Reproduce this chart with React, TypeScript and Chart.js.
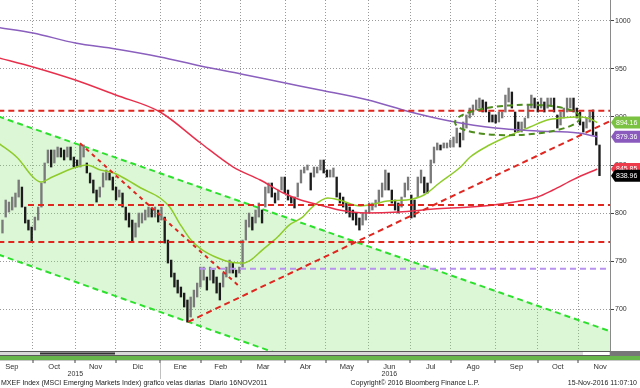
import React, { useEffect, useRef } from 'react';
import { Chart, registerables } from 'chart.js';

Chart.register(...registerables);

// ---------- DATA ----------
// Candles: one bar per ~1.7 trading days, Sep-2015 .. 15-Nov-2016 (high / low)
const candleHigh = [
  792.8, 813.6, 811.5, 816.7, 820.9, 834.4, 827.1, 806.3, 792.8, 785.5,
  795.9, 806.3, 831.3, 852.1, 865.6, 865.6, 865.6, 868.7, 867.7, 865.6,
  868.7, 868.7, 858.3, 855.2, 870.8, 870.8, 852.1, 841.7, 834.4, 824.0,
  827.1, 841.7, 844.8, 841.7, 837.5, 827.1, 824.0, 820.9, 806.3, 800.1,
  792.8, 789.7, 800.1, 800.1, 803.2, 806.3, 805.3, 806.3, 803.2, 806.3,
  795.9, 772.0, 751.2, 737.7, 730.4, 723.2, 716.9, 709.7, 712.8, 720.0,
  727.3, 743.9, 743.9, 733.6, 743.9, 740.8, 733.6, 727.3, 737.7, 743.9,
  751.2, 748.1, 740.8, 743.9, 772.0, 792.8, 800.1, 795.9, 803.2, 810.5,
  803.2, 827.1, 831.3, 831.3, 820.9, 824.0, 837.5, 837.5, 824.0, 816.7,
  816.7, 831.3, 844.8, 847.9, 850.0, 841.7, 847.9, 847.9, 855.2, 855.2,
  844.8, 844.8, 846.9, 837.5, 820.9, 816.7, 810.5, 806.3, 803.2, 800.1,
  794.9, 800.1, 803.2, 810.5, 810.5, 813.6, 824.0, 831.3, 844.8, 841.7,
  824.0, 813.6, 810.5, 816.7, 831.3, 837.5, 818.8, 813.6, 837.5, 844.8,
  837.5, 831.3, 855.2, 868.7, 872.9, 870.8, 872.9, 872.9, 876.0, 879.1,
  888.4, 883.2, 894.7, 902.0, 909.2, 912.4, 917.6, 919.6, 917.6, 915.5,
  905.1, 902.0, 902.0, 905.1, 905.1, 922.7, 930.0, 925.9, 905.1, 894.7,
  894.7, 898.9, 912.4, 922.7, 919.6, 915.5, 919.6, 915.5, 919.6, 919.6,
  919.6, 902.0, 905.1, 909.2, 919.6, 919.6, 919.6, 909.2, 905.1, 894.7,
  898.9, 905.1, 907.2, 884.3, 870.8,
];
const candleLow = [
  779.3, 795.9, 801.1, 803.2, 806.3, 816.7, 806.3, 789.7, 782.4, 769.9,
  782.4, 792.8, 806.3, 831.3, 852.1, 847.9, 852.1, 858.3, 858.3, 855.2,
  858.3, 855.2, 847.9, 847.9, 847.9, 858.3, 841.7, 831.3, 820.9, 811.5,
  816.7, 827.1, 834.4, 834.4, 824.0, 813.6, 816.7, 806.3, 792.8, 785.5,
  769.9, 775.1, 785.5, 789.7, 792.8, 795.9, 795.9, 795.9, 790.7, 792.8,
  768.9, 748.1, 733.6, 723.2, 716.9, 712.8, 702.4, 686.8, 692.0, 702.4,
  712.8, 723.2, 730.4, 720.0, 730.4, 727.3, 716.9, 709.7, 723.2, 733.6,
  737.7, 737.7, 733.6, 737.7, 743.9, 772.0, 785.5, 782.4, 789.7, 795.9,
  789.7, 806.3, 820.9, 816.7, 810.5, 813.6, 824.0, 820.9, 813.6, 810.5,
  805.3, 816.7, 831.3, 841.7, 844.8, 824.0, 837.5, 841.7, 844.8, 841.7,
  837.5, 837.5, 837.5, 816.7, 810.5, 806.3, 800.1, 795.9, 792.8, 787.6,
  782.4, 787.6, 792.8, 800.1, 803.2, 806.3, 810.5, 816.7, 824.0, 824.0,
  810.5, 803.2, 800.1, 806.3, 816.7, 824.0, 794.9, 795.9, 816.7, 831.3,
  820.9, 820.9, 831.3, 852.1, 865.6, 865.6, 867.7, 867.7, 868.7, 868.7,
  872.9, 868.7, 876.0, 888.4, 898.9, 902.0, 907.2, 909.2, 905.1, 905.1,
  894.7, 894.7, 893.6, 894.7, 898.9, 905.1, 915.5, 909.2, 884.3, 884.3,
  884.3, 888.4, 898.9, 909.2, 909.2, 905.1, 909.2, 905.1, 909.2, 912.4,
  905.1, 888.4, 891.6, 898.9, 905.1, 909.2, 905.1, 898.9, 891.6, 884.3,
  888.4, 894.7, 881.2, 870.8, 838.96,
];
const CANDLE_SLOTS = 188;

// Moving averages (x = trading-day index from 7-Sep-2015)
const purpleDays = [0, 18, 40, 61, 84, 105, 126, 149, 167, 192, 214, 235, 258, 280, 301, 311];
const purpleVals = [993.0, 987.2, 976.8, 970.6, 962.3, 952.9, 944.6, 935.2, 928.0, 917.6, 905.1, 895.5, 888.4, 885.3, 883.2, 879.36];

const redDays = [0, 18, 40, 61, 84, 105, 122, 136, 148, 157, 167, 177, 191, 208, 226, 245, 257, 271, 280, 288, 299, 311];
const redVals = [961.5, 951.9, 938.3, 922.7, 905.1, 872.9, 847.9, 834.4, 820.9, 813.6, 808.4, 803.2, 800.1, 801.1, 804.2, 806.3, 808.4, 812.6, 816.7, 824.0, 835.4, 845.85];

const greenDays = [0, 10, 18, 22, 28, 39, 46, 53, 60, 67, 74, 84, 89, 94, 100, 106, 114, 120, 127, 131, 137, 145, 151, 158, 163, 171, 177, 188, 195, 202, 212, 221, 229, 240, 245, 255, 266, 276, 285, 292, 301, 306, 311];
const greenVals = [872.9, 857.3, 837.5, 832.3, 837.5, 846.9, 850.0, 844.8, 841.7, 834.4, 826.1, 815.7, 806.3, 789.7, 772.0, 761.6, 753.3, 749.2, 748.1, 751.2, 761.6, 775.1, 787.6, 795.9, 806.3, 815.7, 813.6, 807.4, 809.4, 812.6, 813.6, 818.8, 831.3, 847.9, 858.3, 870.8, 881.2, 889.5, 896.8, 898.9, 899.9, 898.9, 894.16];

// Trend lines / levels
const channelDays = [0, 318];
const channelUpper = [900.5, 677.0];
const channelLower = [757.0, 531.0];
const redDownDays = [42.4, 124.4];
const redDownVals = [872.5, 725.2];
const redUpDays = [98.6, 318];
const redUpVals = [687.0, 896.0];
const levelRed = [906.5, 808.4, 770.0];
const levelRedStart = [0, 15.4, 0];
const levelPurple = 742.3;
const levelPurpleStart = 104.7;
const levelEnd = 318;

// Ellipse annotation: centre (day, value), half-span (days, value)
const ellipseCenter = [269.6, 896.8];
const ellipseHalf = [32.5, 15.6];

// Axis
const yTicks = [700, 750, 800, 850, 900, 950, 1000];
const monthStarts = [18, 40, 61, 84, 105, 126, 149, 170, 192, 214, 235, 258, 280, 301];
const monthNames = ['Sep', 'Oct', 'Nov', 'Dic', 'Ene', 'Feb', 'Mar', 'Abr', 'May', 'Jun', 'Jul', 'Ago', 'Sep', 'Oct', 'Nov'];
const monthCenters = [7, 29, 50.5, 72.5, 94.5, 115.5, 137.5, 159.5, 181, 203, 224.5, 246.5, 269, 290.5, 312.5];
const yearLabels = [{ day: 40, text: '2015' }, { day: 203, text: '2016' }];
const yearBreakDay = 84;

const lastTags = [
  { value: 894.16, text: '894.16', bg: '#7cc242', fg: '#ffffff' },
  { value: 879.36, text: '879.36', bg: '#8a5bbd', fg: '#ffffff' },
  { value: 845.85, text: '845.85', bg: '#ee3b4c', fg: '#ffffff' },
  { value: 838.96, text: '838.96', bg: '#000000', fg: '#ffffff' },
];

const footerLeft = 'MXEF Index (MSCI Emerging Markets Index) grafico velas diarias  Diario 16NOV2011';
const footerMid = 'Copyright© 2016 Bloomberg Finance L.P.';
const footerRight = '15-Nov-2016 11:07:10';

const FONT = '"Liberation Sans", Arial, sans-serif';

// ---------- CHART ----------
const pts = (d: number[], v: number[]) => d.map((x, i) => ({ x, y: v[i] }));

const lineDs = (data: any, color: string, width: number, dash: number[], order: number, extra: any = {}) => ({
  type: 'line',
  xAxisID: 'xd',
  yAxisID: 'y',
  data,
  borderColor: color,
  borderWidth: width,
  borderDash: dash,
  pointRadius: 0,
  fill: false,
  tension: 0,
  order,
  ...extra,
});

const overlayPlugin = {
  id: 'overlay',
  afterDatasetsDraw(chart: any) {
    const { ctx, chartArea: a } = chart;
    const xs = chart.scales.xd;
    const ys = chart.scales.y;
    const cx = xs.getPixelForValue(ellipseCenter[0]);
    const cy = ys.getPixelForValue(ellipseCenter[1]);
    const rx = Math.abs(xs.getPixelForValue(ellipseCenter[0] + ellipseHalf[0]) - cx);
    const ry = Math.abs(ys.getPixelForValue(ellipseCenter[1] + ellipseHalf[1]) - cy);
    ctx.save();
    ctx.beginPath();
    ctx.rect(a.left, a.top, a.right - a.left, a.bottom - a.top);
    ctx.clip();
    ctx.beginPath();
    ctx.ellipse(cx, cy, rx, ry, -0.04, 0, Math.PI * 2);
    ctx.setLineDash([6, 4]);
    ctx.lineWidth = 2;
    ctx.strokeStyle = '#4e8c1e';
    ctx.stroke();
    ctx.restore();
  },
  afterDraw(chart: any) {
    const { ctx, chartArea: a, width, height } = chart;
    const xs = chart.scales.xd;
    const ys = chart.scales.y;
    const b = a.bottom;
    ctx.save();
    // scroll band
    ctx.fillStyle = '#d9d9d9';
    ctx.fillRect(0, b, width, 5);
    ctx.fillStyle = '#5a5a5a';
    ctx.fillRect(0, b, width, 1);
    ctx.fillRect(0, b + 4, width, 1);
    ctx.fillStyle = '#333';
    ctx.fillRect(a.left + 40, b + 1.5, 75, 2);
    ctx.fillStyle = '#ffffff';
    ctx.fillRect(a.right - 27, b + 1, 26, 3);
    ctx.fillStyle = '#777';
    ctx.fillRect(a.right, b, width - a.right, 5);
    ctx.fillStyle = '#66b64c';
    ctx.fillRect(0, b + 5, width, 4);
    ctx.fillStyle = '#c8c8c8';
    ctx.fillRect(0, b + 9, width, 1);
    // month tick marks
    ctx.fillStyle = '#444';
    monthStarts.forEach((d) => {
      const x = Math.round(xs.getPixelForValue(d));
      ctx.fillRect(x - 0.5, b + 9, 1, 3);
    });
    // year separator
    const xb = Math.round(xs.getPixelForValue(yearBreakDay)) + 0.5;
    ctx.strokeStyle = '#c0c0c0';
    ctx.lineWidth = 1;
    ctx.beginPath();
    ctx.moveTo(xb, b + 12);
    ctx.lineTo(xb, b + 28);
    ctx.stroke();
    // year labels
    ctx.fillStyle = '#333';
    ctx.font = `7px ${FONT}`;
    ctx.textAlign = 'center';
    ctx.textBaseline = 'middle';
    yearLabels.forEach((yl) => ctx.fillText(yl.text, xs.getPixelForValue(yl.day), b + 23));
    // footer
    ctx.fillStyle = '#222';
    ctx.textAlign = 'left';
    ctx.fillText(footerLeft, 1, height - 5);
    ctx.textAlign = 'center';
    ctx.fillText(footerMid, 415, height - 5);
    ctx.textAlign = 'right';
    ctx.fillText(footerRight, width - 3, height - 5);
    // last value tags
    lastTags.forEach((t) => {
      const y = ys.getPixelForValue(t.value);
      const x0 = a.right + 1;
      ctx.beginPath();
      ctx.moveTo(x0, y);
      ctx.lineTo(x0 + 4, y - 6);
      ctx.lineTo(width, y - 6);
      ctx.lineTo(width, y + 6);
      ctx.lineTo(x0 + 4, y + 6);
      ctx.closePath();
      ctx.fillStyle = t.bg;
      ctx.fill();
      ctx.fillStyle = t.fg;
      ctx.font = `7px ${FONT}`;
      ctx.textAlign = 'left';
      ctx.textBaseline = 'middle';
      ctx.fillText(t.text, x0 + 5, y + 0.5);
    });
    ctx.restore();
  },
};

export default function App() {
  const ref = useRef<HTMLCanvasElement | null>(null);

  useEffect(() => {
    const canvas = ref.current;
    if (!canvas) return;

    const candleColors = candleHigh.map((h, i) => {
      if (i === 0) return '#7a7a7a';
      const mid = (h + candleLow[i]) / 2;
      const prev = (candleHigh[i - 1] + candleLow[i - 1]) / 2;
      return mid >= prev ? '#7a7a7a' : '#1c1c1c';
    });

    const slotLabels = Array.from({ length: CANDLE_SLOTS }, (_, i) => String(i));
    const tickValues = [...monthStarts, ...monthCenters].sort((p, q) => p - q);

    const datasets: any[] = [
      lineDs(pts(channelDays, channelUpper), '#2ee02e', 2, [6, 4], 30, {
        fill: 1,
        backgroundColor: 'rgba(140,228,120,0.30)',
      }),
      lineDs(pts(channelDays, channelLower), '#2ee02e', 2, [6, 4], 29),
      {
        type: 'bar',
        xAxisID: 'xc',
        yAxisID: 'y',
        data: candleHigh.map((h, i) => [candleLow[i], h]),
        backgroundColor: candleColors,
        borderWidth: 0,
        barThickness: 1.7,
        order: 20,
      },
      lineDs(pts(purpleDays, purpleVals), '#8a5fbe', 1.5, [], 10, { cubicInterpolationMode: 'monotone' }),
      lineDs(pts(redDays, redVals), '#e8304c', 1.5, [], 10, { cubicInterpolationMode: 'monotone' }),
      lineDs(pts(greenDays, greenVals), '#8fcb2b', 1.5, [], 10, { cubicInterpolationMode: 'monotone' }),
      ...levelRed.map((v, i) => lineDs(pts([levelRedStart[i], levelEnd], [v, v]), '#e0261f', 2, [6, 4], 5)),
      lineDs(pts([levelPurpleStart, levelEnd], [levelPurple, levelPurple]), '#b892ee', 2, [6, 4], 6),
      lineDs(pts(redDownDays, redDownVals), '#e0261f', 2, [4, 4], 4),
      lineDs(pts(redUpDays, redUpVals), '#e0261f', 2, [6, 4], 4),
    ];

    const chart = new Chart(canvas, {
      type: 'bar',
      data: { labels: slotLabels, datasets },
      options: {
        animation: false,
        responsive: false,
        devicePixelRatio: 1,
        layout: { padding: 0 },
        plugins: { legend: { display: false }, tooltip: { enabled: false } },
        scales: {
          xc: {
            type: 'category',
            labels: slotLabels,
            display: false,
            offset: true,
          },
          xd: {
            type: 'linear',
            position: 'bottom',
            min: 0.87,
            max: 317.6,
            offset: false,
            afterBuildTicks: (s: any) => {
              s.ticks = tickValues.map((v) => ({ value: v }));
            },
            afterFit: (s: any) => {
              s.height = 37;
              s.paddingLeft = 0;
              s.paddingRight = 0;
            },
            border: { display: false, dash: [1, 2] },
            grid: {
              offset: false,
              drawTicks: false,
              lineWidth: 1,
              color: (c: any) => (c.tick && monthStarts.includes(c.tick.value) ? '#9a9a9a' : 'rgba(0,0,0,0)'),
            },
            ticks: {
              autoSkip: false,
              maxRotation: 0,
              minRotation: 0,
              padding: 12,
              color: '#333',
              font: { family: FONT, size: 7.5, lineHeight: 1 },
              callback: (v: any) => {
                const i = monthCenters.indexOf(v);
                return i >= 0 ? monthNames[i] : '';
              },
            },
          },
          y: {
            type: 'linear',
            position: 'right',
            min: 656.7,
            max: 1021.5,
            afterBuildTicks: (s: any) => {
              s.ticks = yTicks.map((v) => ({ value: v }));
            },
            afterFit: (s: any) => {
              s.width = 30;
              s.paddingTop = 0;
              s.paddingBottom = 0;
            },
            border: { display: true, color: '#8a8a8a', dash: [1, 2] },
            grid: { color: '#9a9a9a', lineWidth: 1, drawTicks: true, tickLength: 4, tickColor: '#444' },
            ticks: {
              padding: 1,
              color: '#333',
              font: { family: FONT, size: 7 },
              callback: (v: any) => String(v),
            },
          },
        },
      },
      plugins: [overlayPlugin],
    } as any);

    return () => chart.destroy();
  }, []);

  return (
    <div style={{ position: 'fixed', left: 0, top: 0, width: 640, height: 388, background: '#fff' }}>
      <canvas ref={ref} width={640} height={388} style={{ width: 640, height: 388, display: 'block' }} />
    </div>
  );
}
